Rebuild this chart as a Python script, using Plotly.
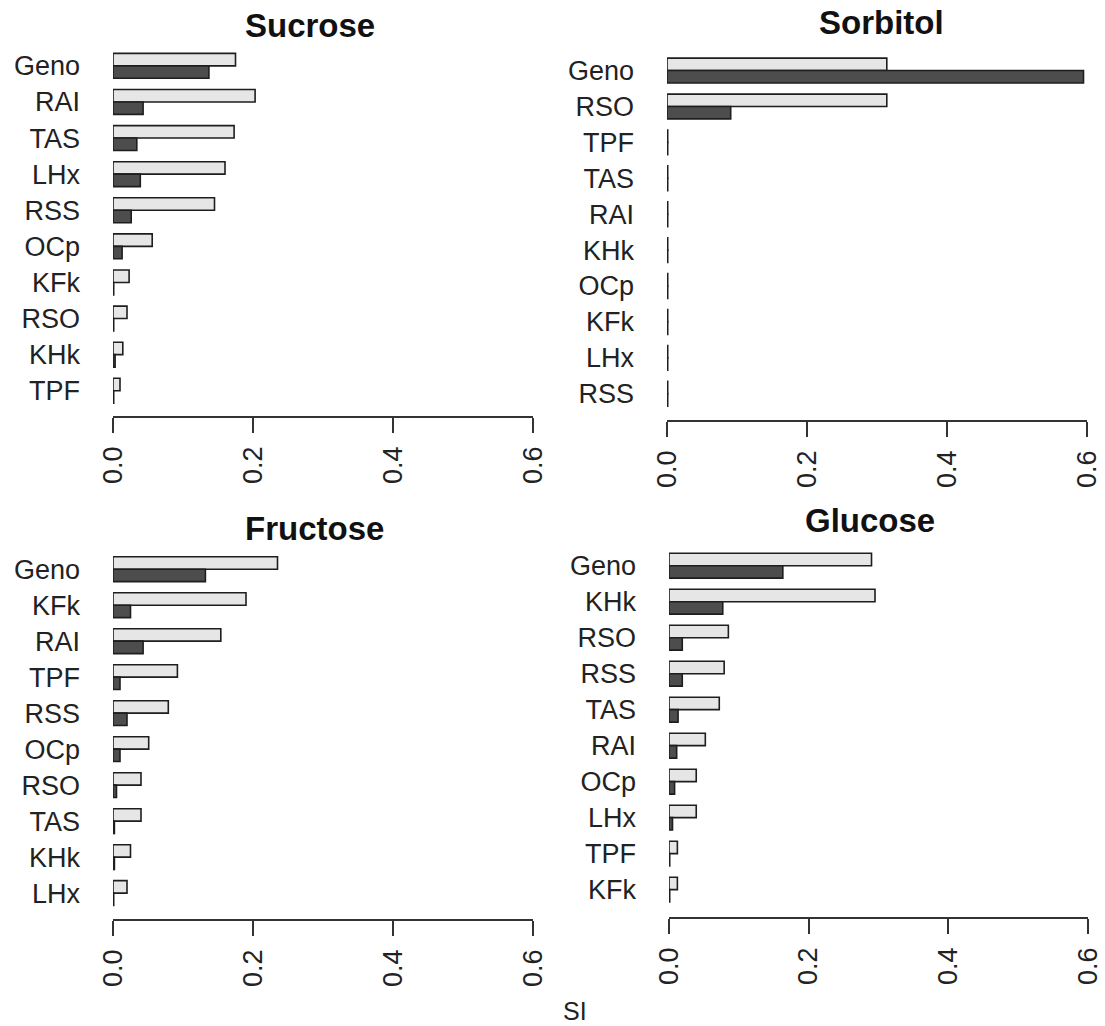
import plotly.graph_objects as go

W, H = 1105, 1026

# ---- data ----
sucrose_cats = ["Geno", "RAI", "TAS", "LHx", "RSS", "OCp", "KFk", "RSO", "KHk", "TPF"]
sucrose_light = [0.175, 0.203, 0.173, 0.160, 0.145, 0.056, 0.023, 0.020, 0.014, 0.010]
sucrose_dark = [0.137, 0.043, 0.034, 0.039, 0.026, 0.013, 0.001, 0.001, 0.003, 0.001]

sorbitol_cats = ["Geno", "RSO", "TPF", "TAS", "RAI", "KHk", "OCp", "KFk", "LHx", "RSS"]
sorbitol_light = [0.314, 0.314, 0.001, 0.001, 0.001, 0.001, 0.001, 0.001, 0.001, 0.001]
sorbitol_dark = [0.595, 0.091, 0.001, 0.001, 0.001, 0.001, 0.001, 0.001, 0.001, 0.001]

fructose_cats = ["Geno", "KFk", "RAI", "TPF", "RSS", "OCp", "RSO", "TAS", "KHk", "LHx"]
fructose_light = [0.235, 0.190, 0.154, 0.092, 0.079, 0.051, 0.040, 0.040, 0.025, 0.020]
fructose_dark = [0.132, 0.025, 0.043, 0.010, 0.020, 0.010, 0.005, 0.002, 0.002, 0.001]

glucose_cats = ["Geno", "KHk", "RSO", "RSS", "TAS", "RAI", "OCp", "LHx", "TPF", "KFk"]
glucose_light = [0.290, 0.295, 0.085, 0.079, 0.072, 0.052, 0.039, 0.039, 0.012, 0.012]
glucose_dark = [0.163, 0.077, 0.019, 0.019, 0.013, 0.011, 0.008, 0.005, 0.001, 0.001]

x_ticks = [0.0, 0.2, 0.4, 0.6]
x_ticktext = ["0.0", "0.2", "0.4", "0.6"]
x_label = "SI"

panels = [
    # title, cats, light, dark, x0px, x1px, ytop, ybot, yrange_bottom, title_x, title_y
    ("Sucrose", sucrose_cats, sucrose_light, sucrose_dark, 113, 533, 47.8, 416, 9.70, 310, 25),
    ("Sorbitol", sorbitol_cats, sorbitol_light, sorbitol_dark, 667, 1087, 52.6, 420, 9.73, 881, 23),
    ("Fructose", fructose_cats, fructose_light, fructose_dark, 113, 533, 551.2, 919, 9.72, 314, 528),
    ("Glucose", glucose_cats, glucose_light, glucose_dark, 669, 1088, 547.7, 917, 9.76, 870, 520),
]

FONT = "Liberation Sans, Arial, Helvetica, sans-serif"
LIGHT = "#e6e6e6"
DARK = "#4d4d4d"
EDGE = "#1e1e1e"
AXC = "#333333"

fig = go.Figure()
annotations = []
layout_axes = {}

for i, (title, cats, light, dark, x0, x1, yt, yb, yrb, tx, ty) in enumerate(panels):
    n = "" if i == 0 else str(i + 1)
    xa, ya = "x" + n, "y" + n
    fig.add_trace(go.Bar(
        y=cats, x=light, orientation="h", xaxis=xa, yaxis=ya,
        marker=dict(color=LIGHT, line=dict(color=EDGE, width=1.6)),
        offsetgroup="a", showlegend=False, hoverinfo="skip"))
    fig.add_trace(go.Bar(
        y=cats, x=dark, orientation="h", xaxis=xa, yaxis=ya,
        marker=dict(color=DARK, line=dict(color=EDGE, width=1.6)),
        offsetgroup="b", showlegend=False, hoverinfo="skip"))
    layout_axes["xaxis" + n] = dict(
        domain=[x0 / W, x1 / W], range=[0, 0.6], anchor=ya, automargin=False,
        tickmode="array", tickvals=x_ticks, ticktext=x_ticktext,
        tickangle=-90, ticks="outside", ticklen=15, tickwidth=1.5, tickcolor=AXC,
        ticklabelstandoff=3,
        showline=True, linecolor=AXC, linewidth=1.5,
        showgrid=False, zeroline=False,
        tickfont=dict(family=FONT, size=27, color="#222222"),
    )
    layout_axes["yaxis" + n] = dict(
        domain=[1 - yb / H, 1 - yt / H], anchor=xa, automargin=False,
        type="category", range=[yrb, -0.5],
        showline=False, showgrid=False, zeroline=False, ticks="",
        ticklabelstandoff=32,
        tickfont=dict(family=FONT, size=27, color="#222222"),
    )
    annotations.append(dict(
        text="<b>" + title + "</b>", x=tx / W, y=1 - ty / H, xref="paper", yref="paper",
        xanchor="center", yanchor="middle", showarrow=False,
        font=dict(family=FONT, size=33, color="#111111")))

annotations.append(dict(
    text=x_label, x=575 / W, y=1 - 1011 / H, xref="paper", yref="paper",
    xanchor="center", yanchor="middle", showarrow=False,
    font=dict(family=FONT, size=25, color="#222222")))

fig.update_layout(
    template="none",
    width=W, height=H, margin=dict(l=0, r=0, t=0, b=0, autoexpand=False),
    paper_bgcolor="white", plot_bgcolor="white",
    barmode="group", bargap=0.31, bargroupgap=0,
    showlegend=False, annotations=annotations,
    **layout_axes,
)

fig.write_html("out.html")
